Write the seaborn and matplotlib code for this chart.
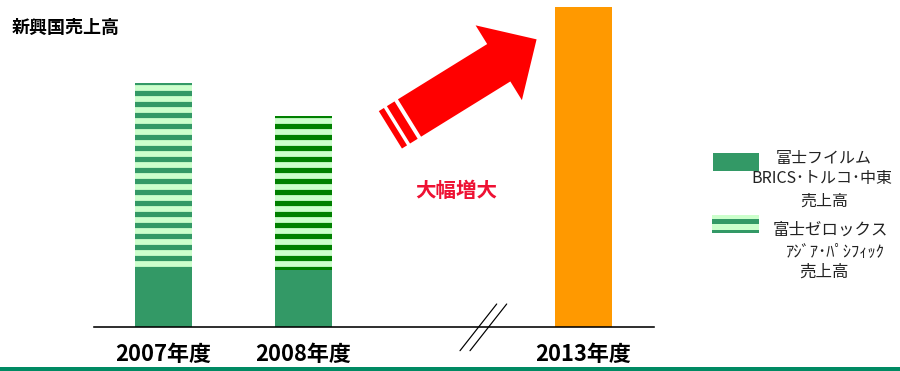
import numpy as np
import pandas as pd
import matplotlib
matplotlib.use('Agg')
import matplotlib.pyplot as plt
import seaborn as sns
from matplotlib.patches import Polygon, Rectangle
from matplotlib.lines import Line2D

# ---------------- data ----------------
years = ['2007年度', '2008年度', '2013年度']
order = ['2007年度', '2008年度', '', '2013年度']
fujifilm_sales = [60, 57]        # 富士フイルム BRICS・トルコ・中東 売上高
fujixerox_sales = [184, 154]     # 富士ゼロックス アジア・パシフィック 売上高
sales_2013 = 320
title = '新興国売上高'
arrow_label = '大幅増大'
legend_ff = ['富士フイルム', 'BRICS･トルコ･中東', '売上高']
legend_fx = ['富士ゼロックス', 'ｱｼﾞｱ･ﾊﾟｼﾌｨｯｸ', '売上高']

# ---------------- setup ----------------
DPI = 200 / 3
W, H = 900, 371


def pt(px):
    return px * 72 / DPI


sns.set_theme(style='white')
plt.rcParams['font.family'] = ['Noto Sans CJK JP', 'DejaVu Sans']
plt.rcParams['hatch.linewidth'] = pt(5.2)

fig = plt.figure(figsize=((W + 0.01) / DPI, (H + 0.01) / DPI), dpi=DPI)
fig.patch.set_facecolor('white')
ax = fig.add_axes([93.5 / W, 44 / H, 560 / W, 320 / H])

totals = [a + b for a, b in zip(fujifilm_sales, fujixerox_sales)] + [sales_2013]
df_tot = pd.DataFrame({'year': years, 'sales': totals})
df_ff = pd.DataFrame({'year': years[:2], 'sales': fujifilm_sales})

sns.barplot(data=df_tot, x='year', y='sales', order=order, width=0.41, ax=ax,
            color='#FF9900', saturation=1, linewidth=0, errorbar=None)
tot_bars = list(ax.patches)
sns.barplot(data=df_ff, x='year', y='sales', order=order, width=0.41, ax=ax,
            color='#339966', saturation=1, linewidth=0, errorbar=None)

stripe_dark = {0: '#339966', 1: '#008000'}
for bar in tot_bars:
    pos = int(round(bar.get_x() + bar.get_width() / 2))
    if pos in stripe_dark:
        bar.set_facecolor('#CCFFCC')
        bar.set_edgecolor(stripe_dark[pos])
        bar.set_hatch('-')
        bar.set_linewidth(0)
    else:
        bar.set_facecolor('#FF9900')

ax.set_xlim(-0.5, 3.5)
ax.set_ylim(0, 320)
ax.set_yticks([])
ax.set_xlabel('')
ax.set_ylabel('')
ax.set_xticks([0, 1, 3])
ax.set_xticklabels(years, fontweight='bold', fontsize=pt(22), color='black')
ax.tick_params(axis='x', length=0, pad=pt(16))
for s in ['top', 'right', 'left']:
    ax.spines[s].set_visible(False)
ax.spines['bottom'].set_color('black')
ax.spines['bottom'].set_linewidth(pt(1.6))
ax.patch.set_alpha(0)


def fxy(x, y):
    return (x / W, 1 - y / H)


# ---------------- arrow ----------------
c = np.array([409.5, 118.0])
d = np.array([0.850, -0.526])
n = np.array([0.526, 0.850])


def P(u, v):
    p = c + u * d + v * n
    return fxy(p[0], p[1])


shaft = [P(0, -22), P(105, -22), P(105, -44), P(149.5, 0), P(105, 44), P(105, 22), P(0, 22)]
band1 = [P(-13, -22), P(-4, -22), P(-4, 22), P(-13, 22)]
band2 = [P(-22.5, -22), P(-16.5, -22), P(-16.5, 22), P(-22.5, 22)]
for poly in (shaft, band1, band2):
    fig.add_artist(Polygon(poly, closed=True, transform=fig.transFigure,
                           facecolor='#FF0000', edgecolor='none'))

# ---------------- axis break ----------------
for x0 in (460, 470):
    x1, y1 = fxy(x0, 350.7)
    x2, y2 = fxy(x0 + 36.7, 304)
    fig.add_artist(Line2D([x1, x2], [y1, y2], transform=fig.transFigure,
                          color='black', linewidth=pt(1.2)))

# ---------------- texts ----------------
fig.text(*fxy(12, 28), title, fontsize=pt(18), fontweight='bold', va='center', ha='left', color='black')
fig.text(*fxy(456, 190), arrow_label, fontsize=pt(20.5), fontweight='bold', va='center', ha='center',
         color='#EE1133')

# ---------------- legend ----------------
x, y = fxy(713, 171)
fig.add_artist(Rectangle((x, y), 46 / W, 18 / H, transform=fig.transFigure,
                         facecolor='#339966', edgecolor='none'))
for top, bot, col in [(215, 219, '#CCFFCC'), (219, 224, '#339966'),
                      (224, 230, '#CCFFCC'), (230, 233, '#339966')]:
    x, y = fxy(712, bot)
    fig.add_artist(Rectangle((x, y), 47 / W, (bot - top) / H, transform=fig.transFigure,
                             facecolor=col, edgecolor='none'))

for txt, cx, cy in zip(legend_ff, [824, 822, 824], [158, 178, 201]):
    fig.text(*fxy(cx, cy), txt, fontsize=pt(16), va='center', ha='center', color='#222222')
for txt, cx, cy in zip(legend_fx, [830, 835, 824], [230, 252, 272]):
    fig.text(*fxy(cx, cy), txt, fontsize=pt(16.5), va='center', ha='center', color='#222222')

# ---------------- bottom rule ----------------
fig.add_artist(Rectangle((0, 0), 1, 4 / H, transform=fig.transFigure,
                         facecolor='#008A63', edgecolor='none'))

fig.savefig('out.png', dpi=DPI)
